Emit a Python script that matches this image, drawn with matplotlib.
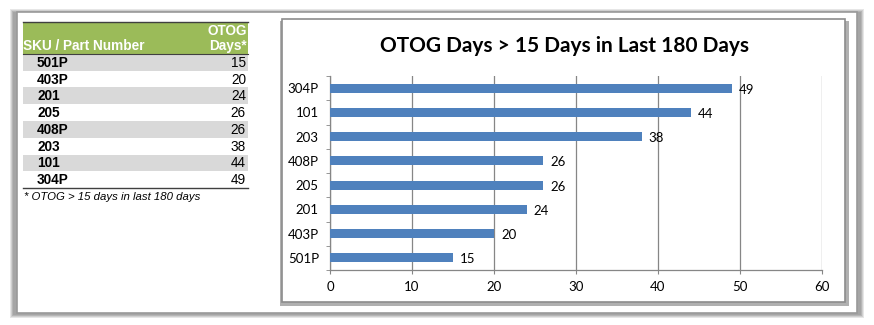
import matplotlib.pyplot as plt
from matplotlib.patches import Rectangle
from matplotlib.ticker import FixedLocator

# data
skus = ["501P", "403P", "201", "205", "408P", "203", "101", "304P"]
days = [15, 20, 24, 26, 26, 38, 44, 49]
x_ticks = [0, 10, 20, 30, 40, 50, 60]
title = "OTOG Days > 15 Days in Last 180 Days"
footnote = "* OTOG > 15 days in last 180 days"

W, H = 874, 325
fig = plt.figure(figsize=(W / 100, H / 100), dpi=100)
fig.patch.set_facecolor("white")


def fx(px):
    return px / W


def fy(py):
    return 1 - py / H


def box(x0, y0, x1, y1, **kw):
    r = Rectangle((fx(x0), fy(y1)), fx(x1) - fx(x0), fy(y0) - fy(y1),
                  transform=fig.transFigure, **kw)
    fig.add_artist(r)
    return r


# outer frame with soft shadow
for i, c in enumerate(["#e6e6e6", "#cfcfcf", "#b5b5b5", "#a5a5a5"]):
    box(10 + i, 9 + i, 864 - i, 318 - i, facecolor=c, edgecolor="none", zorder=0)
box(17, 12, 857, 313, facecolor="white", edgecolor="#9a9a9a", lw=1.2, zorder=1)

# chart box with shadow
box(280, 21, 849, 306, facecolor="#b0b0b0", edgecolor="none", zorder=1)
box(282, 19, 845, 302, facecolor="white", edgecolor="#8c8c8c", lw=1.2, zorder=2)

# table
row_h = (188 - 54) / len(skus)
box(23, 22, 248, 54, facecolor="#9BBB59", edgecolor="none", zorder=2)
for i, (sku, d) in enumerate(zip(skus, days)):
    top = 54 + i * row_h
    if i % 2 == 0:
        box(23, top, 248, top + row_h, facecolor="#d9d9d9", edgecolor="none", zorder=2)
    fig.text(fx(37), fy(top + row_h / 2 + 0.5), sku, family="Liberation Sans",
             fontweight="bold", fontsize=9.8, va="center", ha="left", zorder=3)
    fig.text(fx(246), fy(top + row_h / 2 + 0.5), str(d), family="Liberation Sans",
             fontsize=9.8, va="center", ha="right", zorder=3)
for yy, lw in [(22, 1.0), (54, 0.8), (188, 1.0)]:
    fig.add_artist(plt.Line2D([fx(23), fx(248)], [fy(yy), fy(yy)], color="#404040",
                              lw=lw, transform=fig.transFigure, zorder=3))

fig.text(fx(23), fy(46), "SKU / Part Number", family="Liberation Sans", fontweight="bold",
         fontsize=9.8, color="white", va="center", ha="left", zorder=3)
fig.text(fx(247), fy(31), "OTOG", family="Liberation Sans", fontweight="bold",
         fontsize=9.8, color="white", va="center", ha="right", zorder=3)
fig.text(fx(247), fy(46), "Days*", family="Liberation Sans", fontweight="bold",
         fontsize=9.8, color="white", va="center", ha="right", zorder=3)
fig.text(fx(24), fy(197), footnote, family="Liberation Sans", style="italic",
         fontsize=8.2, va="center", ha="left", zorder=3)

# chart
fig.text(fx(564), fy(46), title, family="Lato", fontweight="bold", fontsize=15,
         va="center", ha="center", zorder=3)

ax = fig.add_axes([fx(330), fy(270), fx(822) - fx(330), fy(76) - fy(270)], zorder=4)
ax.patch.set_alpha(0)
pos = list(range(len(skus)))
ax.barh(pos, days, height=0.37, color="#4F81BD", zorder=3)
for p, d in zip(pos, days):
    ax.annotate(str(d), (d, p), xytext=(5, -1), textcoords="offset points",
                va="center", ha="left", family="Lato", fontsize=9.5)

ax.set_xlim(0, 60)
ax.set_ylim(-0.5, len(skus) - 0.5)
ax.set_xticks(x_ticks)
ax.set_yticks(pos)
ax.set_yticklabels(skus, family="Lato", fontsize=9.5)
for lab in ax.get_xticklabels():
    lab.set_family("Lato")
    lab.set_fontsize(9.5)
ax.yaxis.set_minor_locator(FixedLocator([p - 0.5 for p in pos] + [len(skus) - 0.5]))
ax.tick_params(axis="y", which="major", length=0, pad=8)
ax.tick_params(axis="y", which="minor", length=3, color="#868686", direction="out")
ax.tick_params(axis="x", length=3, color="#868686", pad=5)
ax.grid(axis="x", color="#868686", lw=0.9, zorder=1)
for s in ["top", "right"]:
    ax.spines[s].set_visible(False)
for s in ["left", "bottom"]:
    ax.spines[s].set_color("#868686")
    ax.spines[s].set_linewidth(0.9)

fig.savefig("out.png", dpi=100)
